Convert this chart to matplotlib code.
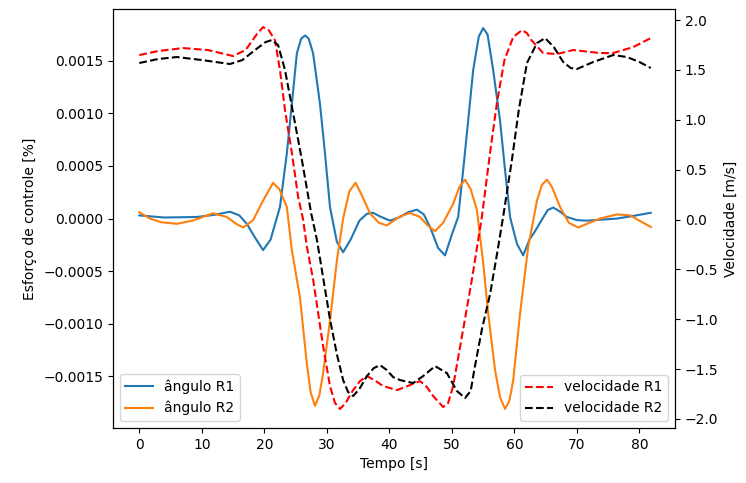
import matplotlib
matplotlib.use("Agg")
import matplotlib.pyplot as plt

# angulo R1 (left axis)
t_ang1 = [0, 4, 9.2, 12, 14.5, 16, 17.2, 18.5, 19.8, 21, 22.5, 23.6, 24.4, 25.2, 25.9, 26.5,
          27.1, 27.8, 28.9, 29.7, 30.5, 31.6, 32.6, 33.8, 35.2, 36.4, 37.4, 38.5, 40.1, 41.7,
          43.0, 44.4, 45.5, 46.5, 47.8, 48.9, 50.0, 51.0, 51.8, 52.6, 53.4, 54.3, 55.0, 55.7,
          56.6, 57.7, 58.5, 59.3, 60.4, 61.4, 62.4, 63.3, 64.5, 65.3, 66.2, 67.2, 68.4, 70,
          71.6, 74, 76.4, 79, 81.8]
ang1 = [0.3e-4, 0.1e-4, 0.15e-4, 0.35e-4, 0.65e-4, 0.3e-4, -0.5e-4, -1.8e-4, -3.0e-4, -2.0e-4,
        1.1e-4, 6.2e-4, 10.9e-4, 15.7e-4, 17.1e-4, 17.4e-4, 17.1e-4, 15.7e-4, 10.9e-4, 6.2e-4,
        1.1e-4, -2.2e-4, -3.2e-4, -2.0e-4, -0.2e-4, 0.45e-4, 0.55e-4, 0.2e-4, -0.2e-4, 0.15e-4,
        0.6e-4, 0.85e-4, 0.4e-4, -0.8e-4, -2.8e-4, -3.5e-4, -1.5e-4, 0.15e-4, 4.6e-4, 9.3e-4,
        14.1e-4, 17.3e-4, 18.1e-4, 17.5e-4, 14.1e-4, 9.3e-4, 4.6e-4, 0.15e-4, -2.4e-4, -3.5e-4,
        -2.0e-4, -1.2e-4, 0.0, 0.8e-4, 1.05e-4, 0.7e-4, 0.15e-4, -0.15e-4, -0.2e-4, -0.1e-4,
        0.0, 0.25e-4, 0.55e-4]

# angulo R2 (left axis)
t_ang2 = [0, 1.7, 3.5, 6, 8.5, 11.8, 14, 15.5, 16.6, 18.2, 19.8, 21.4, 22.4, 23.6, 24.4, 25.7,
          26.8, 27.4, 28.1, 28.8, 29.4, 30.5, 31.6, 32.6, 33.6, 34.6, 35.6, 36.9, 38.3, 39.6,
          41.7, 43.3, 44.9, 46.2, 47.3, 48.6, 50.2, 51.2, 52.1, 53.0, 54.0, 55.0, 55.8, 56.9,
          57.7, 58.5, 59.2, 59.8, 60.9, 62.2, 63.6, 64.4, 65.2, 66.0, 67.3, 68.7, 70.2, 72.0,
          73.7, 76.4, 78.5, 80.0, 81.8]
ang2 = [0.6e-4, 0.0, -0.35e-4, -0.5e-4, -0.2e-4, 0.5e-4, 0.15e-4, -0.5e-4, -0.85e-4, -0.15e-4,
        1.7e-4, 3.4e-4, 2.8e-4, 1.1e-4, -3.0e-4, -7.5e-4, -13.8e-4, -16.5e-4, -17.8e-4, -16.8e-4,
        -14.7e-4, -9.7e-4, -4.0e-4, 0.0, 2.6e-4, 3.4e-4, 2.2e-4, 0.5e-4, -0.4e-4, -0.65e-4,
        0.2e-4, 0.53e-4, 0.15e-4, -0.7e-4, -1.2e-4, -0.4e-4, 1.4e-4, 3.0e-4, 3.7e-4, 2.8e-4,
        0.8e-4, -4.2e-4, -9.0e-4, -14.4e-4, -17.0e-4, -18.1e-4, -17.3e-4, -15.4e-4, -9.0e-4,
        -2.7e-4, 1.7e-4, 3.2e-4, 3.7e-4, 3.0e-4, 1.1e-4, -0.4e-4, -0.85e-4, -0.4e-4, 0.0,
        0.4e-4, 0.3e-4, -0.2e-4, -0.8e-4]

# velocidade R1 (right axis)
t_vel1 = [0, 3, 7, 11, 15, 17, 18.8, 19.8, 20.7, 21.7, 22.5, 23.3, 24.4, 25.4, 26.2, 26.8, 27.8,
          29.4, 30.5, 31.3, 32.1, 33.0, 34.2, 35.3, 36.4, 37.6, 39.0, 41.2, 42.5, 44.9, 46.0,
          47.0, 48.6, 49.4, 50.2, 51.8, 53.2, 54.8, 56.1, 57.2, 58.4, 59.8, 61.2, 62.0, 62.7,
          64.6, 66.8, 69.4, 73.7, 75.8, 79.0, 81.8]
vel1 = [1.65, 1.69, 1.72, 1.70, 1.64, 1.70, 1.86, 1.93, 1.90, 1.80, 1.50, 1.10, 0.67, 0.23, 0.0,
        -0.27, -0.6, -1.27, -1.67, -1.84, -1.90, -1.84, -1.71, -1.62, -1.57, -1.61, -1.67, -1.71,
        -1.68, -1.62, -1.68, -1.77, -1.88, -1.84, -1.67, -1.10, -0.6, 0.03, 0.67, 1.17, 1.60,
        1.83, 1.90, 1.87, 1.80, 1.67, 1.66, 1.70, 1.67, 1.67, 1.73, 1.82]

# velocidade R2 (right axis)
t_vel2 = [0, 3, 6, 10, 14.5, 16.5, 18.5, 20.2, 21.2, 22.2, 23.3, 24.6, 26.0, 27.5, 28.4, 30.5,
          31.6, 32.6, 33.4, 34.2, 35.2, 36.4, 37.5, 38.5, 39.6, 40.6, 41.7, 43.8, 45.4, 47.3,
          49.2, 50.8, 52.1, 53.0, 53.6, 54.8, 56.1, 57.2, 58.2, 59.6, 60.7, 62.0, 63.6, 64.9,
          66.3, 67.8, 69.0, 70.0, 72.6, 75.8, 78.0, 80.0, 81.8]
vel2 = [1.57, 1.61, 1.63, 1.60, 1.56, 1.60, 1.70, 1.78, 1.80, 1.75, 1.50, 1.07, 0.60, 0.06, -0.2,
        -1.0, -1.35, -1.61, -1.73, -1.77, -1.70, -1.57, -1.49, -1.46, -1.51, -1.58, -1.61, -1.64,
        -1.57, -1.47, -1.54, -1.72, -1.79, -1.72, -1.5, -1.10, -0.75, -0.35, 0.03, 0.60, 1.10,
        1.57, 1.77, 1.82, 1.73, 1.58, 1.52, 1.51, 1.58, 1.65, 1.63, 1.58, 1.52]

fig = plt.figure(figsize=(7.46, 4.83), dpi=100)
ax = fig.add_axes([0.151, 0.114, 0.754, 0.867])
ax.plot(t_ang1, ang1, label="ângulo R1")
ax.plot(t_ang2, ang2, label="ângulo R2")
ax.set_xlim(-4.26, 85.7)
ax.set_ylim(-0.00199, 0.00199)
ax.set_xlabel("Tempo [s]")
ax.set_ylabel("Esforço de controle [%]")
ax.legend(loc="lower left")

ax2 = ax.twinx()
ax2.plot(t_vel1, vel1, "r--", label="velocidade R1")
ax2.plot(t_vel2, vel2, "k--", label="velocidade R2")
ax2.set_ylim(-2.09, 2.11)
ax2.set_ylabel("Velocidade [m/s]")
ax2.legend(loc="lower right")

plt.savefig("out.png", dpi=100)
